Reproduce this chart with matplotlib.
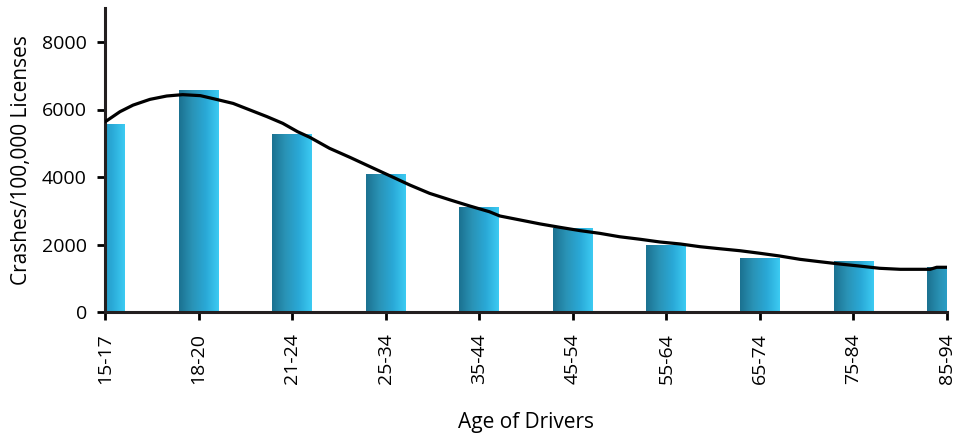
import numpy as np
import matplotlib
matplotlib.use("Agg")
from matplotlib import pyplot as plt
from matplotlib.colors import LinearSegmentedColormap

plt.rcParams['font.family'] = ['Open Sans', 'DejaVu Sans']

# data
ages = ["15-17", "18-20", "21-24", "25-34", "35-44",
        "45-54", "55-64", "65-74", "75-84", "85-94"]
crashes = [5570, 6570, 5260, 4080, 3100, 2480, 1980, 1600, 1505, 1320]

# trend curve
curve_x = [0, 0.02, 0.16, 0.30, 0.48, 0.66, 0.83, 1.02, 1.19, 1.37, 1.55, 1.73, 1.90,
           2.06, 2.19, 2.40, 2.62, 2.83, 3.05, 3.26, 3.47, 3.69, 3.90, 4.11, 4.22,
           4.44, 4.65, 4.86, 5.08, 5.29, 5.50, 5.72, 5.93, 6.15, 6.36, 6.57, 6.79,
           7.00, 7.21, 7.43, 7.64, 7.86, 8.07, 8.28, 8.50, 8.82, 8.89, 9.0]
curve_y = [5640, 5670, 5935, 6130, 6300, 6400, 6440, 6410, 6300, 6180, 5985, 5790, 5590,
           5340, 5175, 4850, 4580, 4310, 4030, 3760, 3515, 3320, 3140, 2970, 2845,
           2725, 2610, 2510, 2410, 2330, 2230, 2155, 2075, 2015, 1935, 1875, 1815,
           1740, 1660, 1560, 1490, 1420, 1360, 1295, 1265, 1265, 1325, 1325]

bar_cmap = LinearSegmentedColormap.from_list(
    "bar", ["#1b7190", "#2a93b6", "#29a8d6", "#3ccbf3"])

fig = plt.figure(figsize=(9.56, 4.34), dpi=100)
W, H = 956, 434
ax = fig.add_axes([105 / W, (H - 312) / H, (947 - 105) / W, (312 - 8.25) / H])

x = np.arange(len(ages))
width = 0.425
grad = np.linspace(0, 1, 256).reshape(1, -1)
for xi, v in zip(x, crashes):
    ax.imshow(grad, cmap=bar_cmap, aspect='auto', interpolation='bilinear',
              extent=[xi - width / 2, xi + width / 2, 0, v], zorder=2)

ax.plot(curve_x, curve_y, color='black', lw=2.3, zorder=3)

ax.set_xlim(0, len(ages) - 1)
ax.set_ylim(0, 9000)
ax.set_xticks(x)
ax.set_xticklabels(ages, rotation=90, fontsize=14)
ax.set_yticks([0, 2000, 4000, 6000, 8000])
ax.tick_params(axis='y', labelsize=14, length=6, width=2, pad=7)
ax.tick_params(axis='x', length=6, width=2, pad=9)

for s in ['top', 'right']:
    ax.spines[s].set_visible(False)
for s in ['left', 'bottom']:
    ax.spines[s].set_linewidth(2.2)
    ax.spines[s].set_color('#231f20')

ax.set_ylabel("Crashes/100,000 Licenses", fontsize=15, labelpad=7)
ax.set_xlabel("Age of Drivers", fontsize=15, labelpad=20)

fig.savefig("out.png", dpi=100)
